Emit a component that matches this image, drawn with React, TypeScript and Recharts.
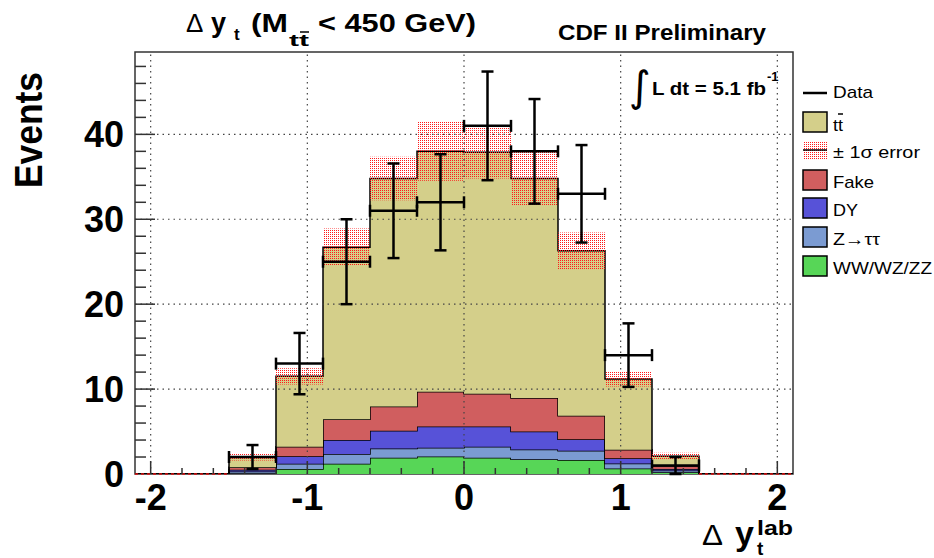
import React from "react";
import {
  ComposedChart,
  Area,
  Scatter,
  ErrorBar,
  XAxis,
  YAxis,
  ReferenceLine,
  ReferenceArea,
} from "recharts";

// 14 bins of 0.3 on [-2.1, 2.1]
const binEdges = [-2.1, -1.8, -1.5, -1.2, -0.9, -0.6, -0.3, 0, 0.3, 0.6, 0.9, 1.2, 1.5, 1.8, 2.1];

// expected events per bin, stacked bottom to top
const dibosonYield = [0, 0, 0.1, 0.6, 1.2, 1.9, 2.05, 1.9, 1.75, 1.65, 0.65, 0.2, 0, 0];
const zTauTauYield = [0, 0, 0.2, 0.6, 1.15, 1.1, 1.05, 1.3, 1.15, 1.1, 0.6, 0.2, 0, 0];
const drellYanYield = [0, 0, 0.2, 0.9, 1.65, 2.1, 2.5, 2.4, 2.1, 1.35, 0.6, 0.2, 0, 0];
const fakeYield = [0, 0, 0.3, 1.1, 2.45, 2.85, 4.1, 3.85, 3.95, 2.75, 1.0, 0.35, 0, 0];
const ttbarYield = [0, 0, 1.2, 8.3, 20.25, 26.85, 28.3, 28.45, 25.85, 19.45, 8.35, 1.15, 0, 0];
// +-1 sigma on the total prediction
const mcError = [0, 0, 0.4, 0.95, 2.2, 2.55, 3.45, 3.1, 3.15, 2.15, 0.9, 0.4, 0, 0];

// observed events
const dataCenters = [-1.35, -1.05, -0.75, -0.45, -0.15, 0.15, 0.45, 0.75, 1.05, 1.35];
const dataCounts = [2, 13, 25, 31, 32, 41, 38, 33, 14, 1];
const dataErrors = [1.41, 3.61, 5, 5.57, 5.66, 6.4, 6.16, 5.74, 3.74, 1];
const binHalfWidth = 0.15;

const xTicks = [-2, -1.8, -1.6, -1.4, -1.2, -1, -0.8, -0.6, -0.4, -0.2, 0, 0.2, 0.4, 0.6, 0.8, 1, 1.2, 1.4, 1.6, 1.8, 2];
const yTicks = [0, 2, 4, 6, 8, 10, 12, 14, 16, 18, 20, 22, 24, 26, 28, 30, 32, 34, 36, 38, 40, 42, 44, 46, 48];
const xGrid = [-2, -1, 0, 1, 2];
const yGrid = [10, 20, 30, 40];
const xDomain: [number, number] = [-2.1, 2.1];
const yDomain: [number, number] = [0, 49.7];

const COLORS = {
  tt: "#d4cf8a",
  fake: "#d05e5f",
  dy: "#5752d8",
  ztt: "#7b9bd2",
  ww: "#57d657",
  band: "#ff1a1a",
};

const FONT = "'Liberation Sans', Arial, Helvetica, sans-serif";

const binTotal = (b: number) =>
  dibosonYield[b] + zTauTauYield[b] + drellYanYield[b] + fakeYield[b] + ttbarYield[b];

// step rows at each bin edge (last edge repeats the last bin)
const stepRows = binEdges.map((x, i) => {
  const b = Math.min(i, ttbarYield.length - 1);
  const total = binTotal(b);
  return {
    x,
    ww: dibosonYield[b],
    ztt: zTauTauYield[b],
    dy: drellYanYield[b],
    fake: fakeYield[b],
    tt: ttbarYield[b],
    band: [total - mcError[b], total + mcError[b]],
  };
});

const emptyBins = binEdges
  .slice(0, -1)
  .map((lo, i) => ({ lo, hi: binEdges[i + 1], total: binTotal(i) }))
  .filter((b) => b.total === 0);

const dataPoints = dataCenters.map((x, i) => ({
  x,
  count: dataCounts[i],
  yErr: dataErrors[i],
  xErr: binHalfWidth,
}));

const YTick = (props: any) => {
  const { x, y, payload } = props;
  const v = payload.value;
  const major = v % 10 === 0;
  return (
    <g>
      {v !== 0 && (
        <line x1={x} x2={x + (major ? 20 : 11)} y1={y} y2={y} stroke="#333" strokeWidth={1.5} />
      )}
      {major && (
        <text x={x - 11} y={y + 13} textAnchor="end" fontFamily={FONT} fontWeight="bold" fontSize={36} fill="#000">
          {v}
        </text>
      )}
    </g>
  );
};

const XTick = (props: any) => {
  const { x, y, payload } = props;
  const v = payload.value;
  const major = Math.abs(v - Math.round(v)) < 1e-6;
  return (
    <g>
      <line x1={x} x2={x} y1={y} y2={y - (major ? 13 : 6)} stroke="#333" strokeWidth={1.5} />
      {major && (
        <text x={x} y={y + 36} textAnchor="middle" fontFamily={FONT} fontWeight="bold" fontSize={36} fill="#000">
          {Math.round(v)}
        </text>
      )}
    </g>
  );
};

const legendBoxes = [
  { label: "Fake", color: COLORS.fake, y: 170, len: 41 },
  { label: "DY", color: COLORS.dy, y: 198, len: 25 },
  { label: "Z\u2192\u03c4\u03c4", color: COLORS.ztt, y: 227, len: 47 },
  { label: "WW/WZ/ZZ", color: COLORS.ww, y: 256, len: 99 },
];

const Overlay = () => (
  <svg
    width={934}
    height={558}
    style={{ position: "absolute", left: 0, top: 0, pointerEvents: "none" }}
  >
    <defs>
      <pattern id="errHatch" width="2" height="2" patternUnits="userSpaceOnUse">
        <rect x="0" y="0" width="1" height="1" fill={COLORS.band} />
      </pattern>
    </defs>

    {/* title */}
    <g fontFamily={FONT} fill="#000">
      <text x={186} y={32} fontSize={26}>{"\u0394"}</text>
      <text x={211} y={32} fontSize={27} fontWeight="bold">y</text>
      <text x={234} y={40} fontSize={17} fontWeight="bold">t</text>
      <text x={251} y={32} fontSize={25} fontWeight="bold" textLength={37} lengthAdjust="spacingAndGlyphs">(M</text>
      <text x={289} y={46} fontSize={17} fontWeight="bold" textLength={20} lengthAdjust="spacingAndGlyphs">tt</text>
      <line x1={300} x2={309} y1={32} y2={32} stroke="#000" strokeWidth={1.5} />
      <text x={318} y={32} fontSize={25} fontWeight="bold" textLength={158} lengthAdjust="spacingAndGlyphs">
        {"< 450 GeV)"}
      </text>
      <text x={558} y={40} fontSize={22} fontWeight="bold" textLength={208} lengthAdjust="spacingAndGlyphs">
        CDF II Preliminary
      </text>
    </g>

    {/* luminosity */}
    <g fontFamily={FONT} fill="#000">
      <text x={629} y={101} fontSize={42} fontFamily="'DejaVu Sans', sans-serif">{"\u222b"}</text>
      <text x={652} y={95} fontSize={18} fontWeight="bold" textLength={114} lengthAdjust="spacingAndGlyphs">
        L dt = 5.1 fb
      </text>
      <text x={767} y={81} fontSize={13} fontWeight="bold">-1</text>
    </g>

    {/* axis titles */}
    <text
      x={42}
      y={130}
      transform="rotate(-90 42 130)"
      textAnchor="middle"
      fontFamily={FONT}
      fontWeight="bold"
      fontSize={38}
      textLength={116}
      lengthAdjust="spacingAndGlyphs"
    >
      Events
    </text>
    <g fontFamily={FONT} fill="#000">
      <text x={702} y={545} fontSize={30} textLength={21} lengthAdjust="spacingAndGlyphs">{"\u0394"}</text>
      <text x={735} y={545} fontSize={34} fontWeight="bold">y</text>
      <text x={757} y={555} fontSize={19} fontWeight="bold">t</text>
      <text x={757} y={535} fontSize={21} fontWeight="bold" textLength={36} lengthAdjust="spacingAndGlyphs">lab</text>
    </g>

    {/* legend */}
    <g fontFamily={FONT} fontSize={17} fill="#000">
      <line x1={803} x2={827} y1={93} y2={93} stroke="#000" strokeWidth={2.5} />
      <text x={833} y={98} textLength={40} lengthAdjust="spacingAndGlyphs">Data</text>

      <rect x={803} y={112} width={24} height={20} fill={COLORS.tt} stroke="#000" strokeWidth={1.5} />
      <text x={833} y={131} textLength={10} lengthAdjust="spacingAndGlyphs">tt</text>
      <line x1={838} x2={843} y1={114} y2={114} stroke="#000" strokeWidth={1.5} />

      <rect x={803} y={141} width={24} height={19} fill="url(#errHatch)" />
      <line x1={803} x2={827} y1={150} y2={150} stroke="#000" strokeWidth={1.5} />
      <text x={833} y={158} textLength={87} lengthAdjust="spacingAndGlyphs">{"\u00b1 1\u03c3 error"}</text>

      {legendBoxes.map((item) => (
        <g key={item.label}>
          <rect x={803} y={item.y} width={24} height={20} fill={item.color} stroke="#000" strokeWidth={1.5} />
          <text x={833} y={item.y + 18} textLength={item.len} lengthAdjust="spacingAndGlyphs">
            {item.label}
          </text>
        </g>
      ))}
    </g>
  </svg>
);

export default function App() {
  return (
    <div style={{ position: "absolute", left: 0, top: 0, width: 934, height: 558, background: "#fff" }}>
      <ComposedChart
        width={934}
        height={558}
        data={stepRows}
        margin={{ top: 52, right: 141, bottom: 54, left: 75 }}
      >
        <XAxis
          type="number"
          dataKey="x"
          domain={xDomain}
          ticks={xTicks}
          interval={0}
          allowDataOverflow
          axisLine={false}
          tickLine={false}
          tickSize={0}
          tickMargin={0}
          height={30}
          tick={(p: any) => <XTick {...p} />}
        />
        <YAxis
          type="number"
          domain={yDomain}
          ticks={yTicks}
          interval={0}
          allowDataOverflow
          axisLine={false}
          tickLine={false}
          tickSize={0}
          tickMargin={0}
          width={60}
          tick={(p: any) => <YTick {...p} />}
        />

        {xGrid.map((v) => (
          <ReferenceLine key={`gx${v}`} x={v} stroke="#444" strokeWidth={1.2} strokeDasharray="1.5 4" />
        ))}
        {yGrid.map((v) => (
          <ReferenceLine key={`gy${v}`} y={v} stroke="#444" strokeWidth={1.2} strokeDasharray="1.5 4" />
        ))}

        <ReferenceArea
          x1={xDomain[0]}
          x2={xDomain[1]}
          y1={yDomain[0]}
          y2={yDomain[1]}
          fill="none"
          fillOpacity={0}
          stroke="#333"
          strokeWidth={1.5}
        />
        {emptyBins.map((b) => (
          <ReferenceLine
            key={`e${b.lo}`}
            segment={[
              { x: b.lo, y: 0 },
              { x: b.hi, y: 0 },
            ]}
            stroke="#e01010"
            strokeWidth={1.5}
            strokeDasharray="3 3"
          />
        ))}

        <Area type="stepAfter" dataKey="ww" stackId="mc" fill={COLORS.ww} fillOpacity={1} stroke="#000" strokeWidth={1.5} dot={false} activeDot={false} isAnimationActive={false} />
        <Area type="stepAfter" dataKey="ztt" stackId="mc" fill={COLORS.ztt} fillOpacity={1} stroke="#000" strokeWidth={1.5} dot={false} activeDot={false} isAnimationActive={false} />
        <Area type="stepAfter" dataKey="dy" stackId="mc" fill={COLORS.dy} fillOpacity={1} stroke="#000" strokeWidth={1.5} dot={false} activeDot={false} isAnimationActive={false} />
        <Area type="stepAfter" dataKey="fake" stackId="mc" fill={COLORS.fake} fillOpacity={1} stroke="#000" strokeWidth={1.5} dot={false} activeDot={false} isAnimationActive={false} />
        <Area type="stepAfter" dataKey="tt" stackId="mc" fill={COLORS.tt} fillOpacity={1} stroke="#000" strokeWidth={1.5} dot={false} activeDot={false} isAnimationActive={false} />

        <Area type="stepAfter" dataKey="band" fill="url(#errHatch)" fillOpacity={1} stroke="none" dot={false} activeDot={false} isAnimationActive={false} />

        <Scatter data={dataPoints} dataKey="count" fill="#000" shape={() => <g />} isAnimationActive={false}>
          <ErrorBar dataKey="yErr" direction="y" width={6} strokeWidth={2.5} stroke="#000" />
          <ErrorBar dataKey="xErr" direction="x" width={6} strokeWidth={2.5} stroke="#000" />
        </Scatter>
      </ComposedChart>
      <Overlay />
    </div>
  );
}
